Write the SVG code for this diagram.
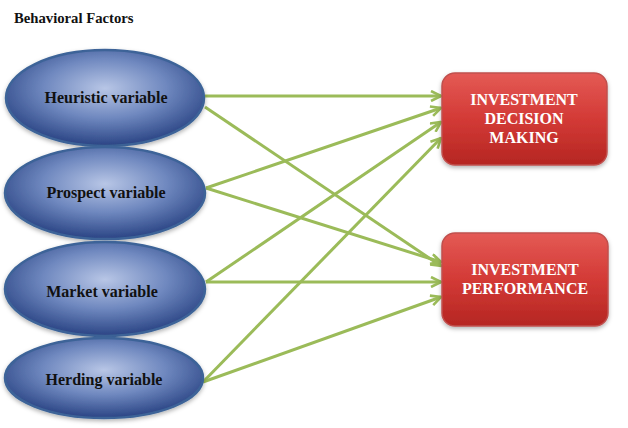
<svg xmlns="http://www.w3.org/2000/svg" width="628" height="428" viewBox="0 0 628 428">
<defs>
<radialGradient id="blueG" cx="50%" cy="40%" r="62%">
<stop offset="0" stop-color="#b8c6e6"/>
<stop offset="0.5" stop-color="#6f88bf"/>
<stop offset="1" stop-color="#253f80"/>
</radialGradient>
<linearGradient id="redG" x1="0" y1="0" x2="0" y2="1">
<stop offset="0" stop-color="#e45a55"/>
<stop offset="0.5" stop-color="#d33a36"/>
<stop offset="1" stop-color="#b52622"/>
</linearGradient>
<filter id="sh" x="-10%" y="-10%" width="120%" height="130%">
<feDropShadow dx="0" dy="2" stdDeviation="2" flood-color="#000" flood-opacity="0.3"/>
</filter>
<marker id="arr" viewBox="0 0 12 12" refX="11" refY="6" markerWidth="12" markerHeight="12" markerUnits="userSpaceOnUse" orient="auto">
<path d="M1,1 L11,6 L1,11" fill="none" stroke="#9bbb59" stroke-width="2.6" stroke-linejoin="miter"/>
</marker>
</defs>
<style>
.ell{fill:url(#blueG);stroke:#3d6498;stroke-width:2.5;filter:url(#sh)}
.box{fill:url(#redG);stroke:#c0504d;stroke-width:1.5;filter:url(#sh)}
.lt{font-family:"Liberation Serif","Times New Roman",serif;font-weight:bold;font-size:16px;fill:#111;text-anchor:middle}
.bt{font-family:"Liberation Serif","Times New Roman",serif;font-weight:bold;font-size:16px;fill:#fff;text-anchor:middle}
.cn{stroke:#9bbb59;stroke-width:3;fill:none;marker-end:url(#arr)}
</style>
<rect width="628" height="428" fill="#fff"/>
<text x="14" y="23" font-family="'Liberation Serif', 'Times New Roman', serif" font-weight="bold" font-size="14.7" fill="#111">Behavioral Factors</text>

<g id="connectors">
<line class="cn" x1="205" y1="96" x2="441" y2="96"/>
<line class="cn" x1="205" y1="107" x2="441" y2="266"/>
<line class="cn" x1="206" y1="188" x2="441" y2="108"/>
<line class="cn" x1="206" y1="188" x2="441" y2="262"/>
<line class="cn" x1="206" y1="282" x2="441" y2="122"/>
<line class="cn" x1="206" y1="282" x2="441" y2="282"/>
<line class="cn" x1="203" y1="382" x2="441" y2="138"/>
<line class="cn" x1="203" y1="382" x2="441" y2="297"/>
</g>

<g id="heuristic">
<ellipse class="ell" cx="105" cy="98" rx="99" ry="48"/>
<text class="lt" x="106" y="103">Heuristic variable</text>
</g>
<g id="prospect">
<ellipse class="ell" cx="105" cy="193" rx="100" ry="46"/>
<text class="lt" x="106" y="198">Prospect variable</text>
</g>
<g id="market">
<ellipse class="ell" cx="105" cy="289" rx="100" ry="47"/>
<text class="lt" x="102" y="297">Market variable</text>
</g>
<g id="herding">
<ellipse class="ell" cx="104" cy="378" rx="99" ry="40"/>
<text class="lt" x="104" y="385">Herding variable</text>
</g>

<g id="decision">
<rect class="box" x="442" y="73" width="165" height="92" rx="13"/>
<text class="bt" x="524" y="105">INVESTMENT</text>
<text class="bt" x="524" y="124">DECISION</text>
<text class="bt" x="524" y="143">MAKING</text>
</g>
<g id="performance">
<rect class="box" x="442" y="233" width="166" height="93" rx="13"/>
<text class="bt" x="525" y="275">INVESTMENT</text>
<text class="bt" x="525" y="294">PERFORMANCE</text>
</g>
</svg>
